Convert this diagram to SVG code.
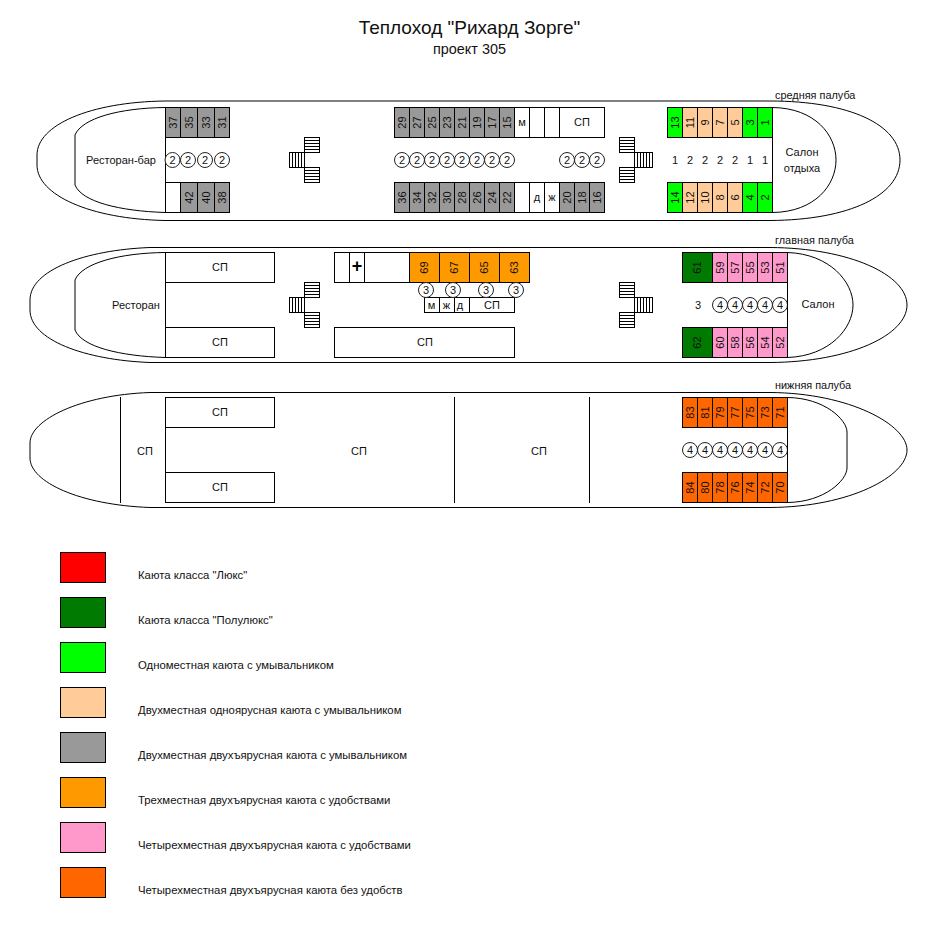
<svg xmlns="http://www.w3.org/2000/svg" width="938" height="928" viewBox="0 0 938 928">
<style>
text{font-family:"Liberation Sans",Arial,sans-serif;font-size:11px;fill:#111;text-anchor:middle}
.l{text-anchor:start;font-size:10.9px}
.e{text-anchor:start;font-size:11.35px}
rect,circle,.h,.s{stroke:#000;stroke-width:1}
.h,.s{fill:none}
rect{fill:#fff}
circle{fill:#fff;stroke:#222}
.g{fill:#999}.gg{fill:#0f0}.p{fill:#fc9}.o{fill:#f90}.k{fill:#f9c}.d{fill:#007a00}.r{fill:#f60}.x{fill:#f00}
</style>
<defs>
<g id="hb"><rect width="15" height="15"/><path class="s" d="M0 3H15M0 6H15M0 9H15M0 12H15"/><path class="s" d="M0 0H15"/></g>
<g id="stairL"><use href="#hb" x="15"/><use href="#hb" x="15" y="30"/><rect y="15" width="15" height="15"/><path class="s" d="M3 15V30M6 15V30M9 15V30M12 15V30"/></g>
<g id="stairR"><use href="#hb"/><use href="#hb" y="30"/><rect x="15" y="15" width="18" height="15"/><path class="s" d="M18 15V30M21 15V30M24 15V30M27 15V30M30 15V30"/></g>
</defs>
<g id="title"><text x="469.500" y="34" style="font-size:19px">Теплоход "Рихард Зорге"</text><text x="469.500" y="54" style="font-size:14.4px">проект 305</text></g>
<g id="connectors">
<path class="h" d="M165 101C90 102 37 125 37 155V165C37 195 90 219 165 220.500H770C850 220 900 195 900 160C900 125 850 101 770 101Z"/>
<path class="h" d="M165 107.500C120 108 82 118 75 135V185C82 202 120 211 165 212.500M772.500 107.500C815 108 836 135 836 160C836 185 815 212 772.500 212.500V107.500"/>
<path class="h" d="M150 247.500C85 250 30 270 30 300V310C30 340 85 360 150 362.500H770C850 362 907 335 907 305C907 275 850 248 770 247.500Z"/>
<path class="h" d="M165 252.500C120 253 82 263 75 280V330C82 347 120 356 165 357.500M787.500 252.500C830 254 853 282 853 305C853 328 830 356 787.500 357.500V252.500"/>
<path class="h" d="M150 392.500C80 395 30 420 30 443V458C30 482 80 505 150 507.500H770C850 507 907 476 907 450C907 425 850 393 770 392.500Z"/>
<path class="h" d="M787.500 397.500C825 398 847 420 847 432V468C847 480 825 502 787.500 502.500V397.500M120.500 397V503M454.500 397V503M589.500 397V503"/>
<path class="h" d="M165.500 107.500V212.500M165.500 252.500V357.500M165.500 397.500V502.500"/>
</g>
<g id="deck-labels"><text class="l" x="775" y="99">средняя палуба</text><text class="l" x="775" y="244">главная палуба</text><text class="l" x="775" y="389">нижняя палуба</text></g>
<g id="stairs"><use href="#stairL" x="289.500" y="137.500"/><use href="#stairL" x="289.500" y="282.500"/><use href="#stairR" x="619.500" y="137.500"/><use href="#stairR" x="619.500" y="282.500"/></g>
<g id="rooms">
<text x="121" y="164">Ресторан-бар</text>
<text x="136" y="309">Ресторан</text>
<text x="802" y="156">Салон</text><text x="802" y="172">отдыха</text>
<text x="818" y="308">Салон</text>
<g id="sp1"><rect x="559.500" y="107.500" width="45" height="30"/><text x="582" y="126">СП</text></g>
<rect x="514.500" y="107.500" width="15" height="30"/><text x="522" y="126">м</text>
<rect x="529.500" y="107.500" width="15" height="30"/><rect x="544.500" y="107.500" width="15" height="30"/>
<rect x="165.500" y="182.500" width="15" height="30"/>
<rect x="514.500" y="182.500" width="15" height="30"/>
<rect x="529.500" y="182.500" width="15" height="30"/><text x="537" y="201">д</text>
<rect x="544.500" y="182.500" width="15" height="30"/><text x="552" y="201">ж</text>
<g id="sp2"><rect x="165.500" y="252.500" width="109" height="30"/><text x="220" y="271">СП</text></g>
<g id="sp3"><rect x="165.500" y="327.500" width="109" height="30"/><text x="220" y="346">СП</text></g>
<rect x="334.500" y="252.500" width="15" height="30"/>
<rect x="349.500" y="252.500" width="15" height="30"/><text x="357" y="272" style="font-size:18px;font-weight:bold;fill:#000">+</text>
<rect x="364.500" y="252.500" width="45" height="30"/>
<rect x="424.500" y="297.500" width="15" height="15"/><text x="431.500" y="309">м</text>
<rect x="439.500" y="297.500" width="15" height="15"/><text x="446.500" y="309">ж</text>
<rect x="454.500" y="297.500" width="15" height="15"/><text x="460" y="309">д</text>
<rect x="469.500" y="297.500" width="45" height="15"/><text x="492" y="309">СП</text>
<g id="sp4"><rect x="334.500" y="327.500" width="180" height="30"/><text x="425" y="346">СП</text></g>
<g id="sp5"><rect x="165.500" y="397.500" width="109" height="30"/><text x="220" y="416">СП</text></g>
<g id="sp6"><rect x="165.500" y="472.500" width="109" height="30"/><text x="220" y="491">СП</text></g>
<text x="145" y="455">СП</text><text x="359" y="455">СП</text><text x="539" y="455">СП</text>
</g>
<g id="cabins-gray">
<g id="c37"><rect class="g" x="165.500" y="107.500" width="15" height="30"/><text transform="translate(173 122.500) rotate(-90)" y="4">37</text></g>
<g id="c35"><rect class="g" x="180.500" y="107.500" width="17" height="30"/><text transform="translate(189 122.500) rotate(-90)" y="4">35</text></g>
<g id="c33"><rect class="g" x="197.500" y="107.500" width="17" height="30"/><text transform="translate(206 122.500) rotate(-90)" y="4">33</text></g>
<g id="c31"><rect class="g" x="214.500" y="107.500" width="15" height="30"/><text transform="translate(222 122.500) rotate(-90)" y="4">31</text></g>
<g id="c42"><rect class="g" x="180.500" y="182.500" width="17" height="30"/><text transform="translate(189 197.500) rotate(-90)" y="4">42</text></g>
<g id="c40"><rect class="g" x="197.500" y="182.500" width="17" height="30"/><text transform="translate(206 197.500) rotate(-90)" y="4">40</text></g>
<g id="c38"><rect class="g" x="214.500" y="182.500" width="15" height="30"/><text transform="translate(222 197.500) rotate(-90)" y="4">38</text></g>
<g id="c29"><rect class="g" x="394.500" y="107.500" width="15" height="30"/><text transform="translate(402 122.500) rotate(-90)" y="4">29</text></g>
<g id="c27"><rect class="g" x="409.500" y="107.500" width="15" height="30"/><text transform="translate(417 122.500) rotate(-90)" y="4">27</text></g>
<g id="c25"><rect class="g" x="424.500" y="107.500" width="15" height="30"/><text transform="translate(432 122.500) rotate(-90)" y="4">25</text></g>
<g id="c23"><rect class="g" x="439.500" y="107.500" width="15" height="30"/><text transform="translate(447 122.500) rotate(-90)" y="4">23</text></g>
<g id="c21"><rect class="g" x="454.500" y="107.500" width="15" height="30"/><text transform="translate(462 122.500) rotate(-90)" y="4">21</text></g>
<g id="c19"><rect class="g" x="469.500" y="107.500" width="15" height="30"/><text transform="translate(477 122.500) rotate(-90)" y="4">19</text></g>
<g id="c17"><rect class="g" x="484.500" y="107.500" width="15" height="30"/><text transform="translate(492 122.500) rotate(-90)" y="4">17</text></g>
<g id="c15"><rect class="g" x="499.500" y="107.500" width="15" height="30"/><text transform="translate(507 122.500) rotate(-90)" y="4">15</text></g>
<g id="c36"><rect class="g" x="394.500" y="182.500" width="15" height="30"/><text transform="translate(402 197.500) rotate(-90)" y="4">36</text></g>
<g id="c34"><rect class="g" x="409.500" y="182.500" width="15" height="30"/><text transform="translate(417 197.500) rotate(-90)" y="4">34</text></g>
<g id="c32"><rect class="g" x="424.500" y="182.500" width="15" height="30"/><text transform="translate(432 197.500) rotate(-90)" y="4">32</text></g>
<g id="c30"><rect class="g" x="439.500" y="182.500" width="15" height="30"/><text transform="translate(447 197.500) rotate(-90)" y="4">30</text></g>
<g id="c28"><rect class="g" x="454.500" y="182.500" width="15" height="30"/><text transform="translate(462 197.500) rotate(-90)" y="4">28</text></g>
<g id="c26"><rect class="g" x="469.500" y="182.500" width="15" height="30"/><text transform="translate(477 197.500) rotate(-90)" y="4">26</text></g>
<g id="c24"><rect class="g" x="484.500" y="182.500" width="15" height="30"/><text transform="translate(492 197.500) rotate(-90)" y="4">24</text></g>
<g id="c22"><rect class="g" x="499.500" y="182.500" width="15" height="30"/><text transform="translate(507 197.500) rotate(-90)" y="4">22</text></g>
<g id="c20"><rect class="g" x="559.500" y="182.500" width="15" height="30"/><text transform="translate(567 197.500) rotate(-90)" y="4">20</text></g>
<g id="c18"><rect class="g" x="574.500" y="182.500" width="15" height="30"/><text transform="translate(582 197.500) rotate(-90)" y="4">18</text></g>
<g id="c16"><rect class="g" x="589.500" y="182.500" width="15" height="30"/><text transform="translate(597 197.500) rotate(-90)" y="4">16</text></g>
</g>
<g id="cabins-front-mid">
<g id="c13"><rect class="gg" x="667.500" y="107.500" width="15" height="30"/><text transform="translate(675 122.500) rotate(-90)" y="4">13</text></g>
<g id="c11"><rect class="p" x="682.500" y="107.500" width="15" height="30"/><text transform="translate(690 122.500) rotate(-90)" y="4">11</text></g>
<g id="c9"><rect class="p" x="697.500" y="107.500" width="15" height="30"/><text transform="translate(705 122.500) rotate(-90)" y="4">9</text></g>
<g id="c7"><rect class="p" x="712.500" y="107.500" width="15" height="30"/><text transform="translate(720 122.500) rotate(-90)" y="4">7</text></g>
<g id="c5"><rect class="p" x="727.500" y="107.500" width="15" height="30"/><text transform="translate(735 122.500) rotate(-90)" y="4">5</text></g>
<g id="c3"><rect class="gg" x="742.500" y="107.500" width="15" height="30"/><text transform="translate(750 122.500) rotate(-90)" y="4">3</text></g>
<g id="c1"><rect class="gg" x="757.500" y="107.500" width="15" height="30"/><text transform="translate(765 122.500) rotate(-90)" y="4">1</text></g>
<g id="c14"><rect class="gg" x="667.500" y="182.500" width="15" height="30"/><text transform="translate(675 197.500) rotate(-90)" y="4">14</text></g>
<g id="c12"><rect class="p" x="682.500" y="182.500" width="15" height="30"/><text transform="translate(690 197.500) rotate(-90)" y="4">12</text></g>
<g id="c10"><rect class="p" x="697.500" y="182.500" width="15" height="30"/><text transform="translate(705 197.500) rotate(-90)" y="4">10</text></g>
<g id="c8"><rect class="p" x="712.500" y="182.500" width="15" height="30"/><text transform="translate(720 197.500) rotate(-90)" y="4">8</text></g>
<g id="c6"><rect class="p" x="727.500" y="182.500" width="15" height="30"/><text transform="translate(735 197.500) rotate(-90)" y="4">6</text></g>
<g id="c4"><rect class="gg" x="742.500" y="182.500" width="15" height="30"/><text transform="translate(750 197.500) rotate(-90)" y="4">4</text></g>
<g id="c2"><rect class="gg" x="757.500" y="182.500" width="15" height="30"/><text transform="translate(765 197.500) rotate(-90)" y="4">2</text></g>
</g>
<g id="cabins-main">
<g id="c69"><rect class="o" x="409.500" y="252.500" width="30" height="30"/><text transform="translate(424 267.500) rotate(-90)" y="4">69</text></g>
<g id="c67"><rect class="o" x="439.500" y="252.500" width="30" height="30"/><text transform="translate(454 267.500) rotate(-90)" y="4">67</text></g>
<g id="c65"><rect class="o" x="469.500" y="252.500" width="30" height="30"/><text transform="translate(484 267.500) rotate(-90)" y="4">65</text></g>
<g id="c63"><rect class="o" x="499.500" y="252.500" width="30" height="30"/><text transform="translate(514 267.500) rotate(-90)" y="4">63</text></g>
<g id="c61"><rect class="d" x="682.500" y="252.500" width="30" height="30"/><text transform="translate(697 267.500) rotate(-90)" y="4">61</text></g>
<g id="c62"><rect class="d" x="682.500" y="327.500" width="30" height="30"/><text transform="translate(697 342.500) rotate(-90)" y="4">62</text></g>
<g id="c59"><rect class="k" x="712.500" y="252.500" width="15" height="30"/><text transform="translate(720 267.500) rotate(-90)" y="4">59</text></g>
<g id="c57"><rect class="k" x="727.500" y="252.500" width="15" height="30"/><text transform="translate(735 267.500) rotate(-90)" y="4">57</text></g>
<g id="c55"><rect class="k" x="742.500" y="252.500" width="15" height="30"/><text transform="translate(750 267.500) rotate(-90)" y="4">55</text></g>
<g id="c53"><rect class="k" x="757.500" y="252.500" width="15" height="30"/><text transform="translate(765 267.500) rotate(-90)" y="4">53</text></g>
<g id="c51"><rect class="k" x="772.500" y="252.500" width="15" height="30"/><text transform="translate(780 267.500) rotate(-90)" y="4">51</text></g>
<g id="c60"><rect class="k" x="712.500" y="327.500" width="15" height="30"/><text transform="translate(720 342.500) rotate(-90)" y="4">60</text></g>
<g id="c58"><rect class="k" x="727.500" y="327.500" width="15" height="30"/><text transform="translate(735 342.500) rotate(-90)" y="4">58</text></g>
<g id="c56"><rect class="k" x="742.500" y="327.500" width="15" height="30"/><text transform="translate(750 342.500) rotate(-90)" y="4">56</text></g>
<g id="c54"><rect class="k" x="757.500" y="327.500" width="15" height="30"/><text transform="translate(765 342.500) rotate(-90)" y="4">54</text></g>
<g id="c52"><rect class="k" x="772.500" y="327.500" width="15" height="30"/><text transform="translate(780 342.500) rotate(-90)" y="4">52</text></g>
</g>
<g id="cabins-lower">
<g id="c83"><rect class="r" x="682.500" y="397.500" width="15" height="30"/><text transform="translate(690 412.500) rotate(-90)" y="4">83</text></g>
<g id="c81"><rect class="r" x="697.500" y="397.500" width="15" height="30"/><text transform="translate(705 412.500) rotate(-90)" y="4">81</text></g>
<g id="c79"><rect class="r" x="712.500" y="397.500" width="15" height="30"/><text transform="translate(720 412.500) rotate(-90)" y="4">79</text></g>
<g id="c77"><rect class="r" x="727.500" y="397.500" width="15" height="30"/><text transform="translate(735 412.500) rotate(-90)" y="4">77</text></g>
<g id="c75"><rect class="r" x="742.500" y="397.500" width="15" height="30"/><text transform="translate(750 412.500) rotate(-90)" y="4">75</text></g>
<g id="c73"><rect class="r" x="757.500" y="397.500" width="15" height="30"/><text transform="translate(765 412.500) rotate(-90)" y="4">73</text></g>
<g id="c71"><rect class="r" x="772.500" y="397.500" width="15" height="30"/><text transform="translate(780 412.500) rotate(-90)" y="4">71</text></g>
<g id="c84"><rect class="r" x="682.500" y="472.500" width="15" height="30"/><text transform="translate(690 487.500) rotate(-90)" y="4">84</text></g>
<g id="c80"><rect class="r" x="697.500" y="472.500" width="15" height="30"/><text transform="translate(705 487.500) rotate(-90)" y="4">80</text></g>
<g id="c78"><rect class="r" x="712.500" y="472.500" width="15" height="30"/><text transform="translate(720 487.500) rotate(-90)" y="4">78</text></g>
<g id="c76"><rect class="r" x="727.500" y="472.500" width="15" height="30"/><text transform="translate(735 487.500) rotate(-90)" y="4">76</text></g>
<g id="c74"><rect class="r" x="742.500" y="472.500" width="15" height="30"/><text transform="translate(750 487.500) rotate(-90)" y="4">74</text></g>
<g id="c72"><rect class="r" x="757.500" y="472.500" width="15" height="30"/><text transform="translate(765 487.500) rotate(-90)" y="4">72</text></g>
<g id="c70"><rect class="r" x="772.500" y="472.500" width="15" height="30"/><text transform="translate(780 487.500) rotate(-90)" y="4">70</text></g>
</g>
<g id="berths">
<circle cx="172.500" cy="160" r="7.500"/><text x="172.500" y="164">2</text>
<circle cx="188" cy="160" r="7.500"/><text x="188" y="164">2</text>
<circle cx="205" cy="160" r="7.500"/><text x="205" y="164">2</text>
<circle cx="222" cy="160" r="7.500"/><text x="222" y="164">2</text>
<circle cx="402" cy="160" r="7.500"/><text x="402" y="164">2</text>
<circle cx="417" cy="160" r="7.500"/><text x="417" y="164">2</text>
<circle cx="432" cy="160" r="7.500"/><text x="432" y="164">2</text>
<circle cx="447" cy="160" r="7.500"/><text x="447" y="164">2</text>
<circle cx="462" cy="160" r="7.500"/><text x="462" y="164">2</text>
<circle cx="477" cy="160" r="7.500"/><text x="477" y="164">2</text>
<circle cx="492" cy="160" r="7.500"/><text x="492" y="164">2</text>
<circle cx="507" cy="160" r="7.500"/><text x="507" y="164">2</text>
<circle cx="567" cy="160" r="7.500"/><text x="567" y="164">2</text>
<circle cx="582" cy="160" r="7.500"/><text x="582" y="164">2</text>
<circle cx="597" cy="160" r="7.500"/><text x="597" y="164">2</text>
<text x="675" y="164">1</text><text x="690" y="164">2</text><text x="705" y="164">2</text><text x="720" y="164">2</text><text x="735" y="164">2</text><text x="750" y="164">1</text><text x="765" y="164">1</text>
<circle cx="426" cy="290" r="7.500"/><text x="426" y="294">3</text>
<circle cx="453" cy="290" r="7.500"/><text x="453" y="294">3</text>
<circle cx="486" cy="290" r="7.500"/><text x="486" y="294">3</text>
<circle cx="516" cy="290" r="7.500"/><text x="516" y="294">3</text>
<text x="698" y="309">3</text>
<circle cx="720" cy="305" r="7.500"/><text x="720" y="309">4</text>
<circle cx="735" cy="305" r="7.500"/><text x="735" y="309">4</text>
<circle cx="750" cy="305" r="7.500"/><text x="750" y="309">4</text>
<circle cx="765" cy="305" r="7.500"/><text x="765" y="309">4</text>
<circle cx="780" cy="305" r="7.500"/><text x="780" y="309">4</text>
<circle cx="690" cy="450" r="7.500"/><text x="690" y="454">4</text>
<circle cx="705" cy="450" r="7.500"/><text x="705" y="454">4</text>
<circle cx="720" cy="450" r="7.500"/><text x="720" y="454">4</text>
<circle cx="735" cy="450" r="7.500"/><text x="735" y="454">4</text>
<circle cx="750" cy="450" r="7.500"/><text x="750" y="454">4</text>
<circle cx="765" cy="450" r="7.500"/><text x="765" y="454">4</text>
<circle cx="780" cy="450" r="7.500"/><text x="780" y="454">4</text>
<path class="h" d="M787.500 282V328M787.500 427V473"/>
</g>
<g id="legend">
<g id="lg1"><rect class="x" x="60.500" y="552.500" width="45" height="30"/><text class="e" x="138" y="579">Каюта класса "Люкс"</text></g>
<g id="lg2"><rect class="d" x="60.500" y="597.500" width="45" height="30"/><text class="e" x="138" y="624">Каюта класса "Полулюкс"</text></g>
<g id="lg3"><rect class="gg" x="60.500" y="642.500" width="45" height="30"/><text class="e" x="138" y="669">Одноместная каюта с умывальником</text></g>
<g id="lg4"><rect class="p" x="60.500" y="687.500" width="45" height="30"/><text class="e" x="138" y="714">Двухместная одноярусная каюта с умывальником</text></g>
<g id="lg5"><rect class="g" x="60.500" y="732.500" width="45" height="30"/><text class="e" x="138" y="759">Двухместная двухъярусная каюта с умывальником</text></g>
<g id="lg6"><rect class="o" x="60.500" y="777.500" width="45" height="30"/><text class="e" x="138" y="804">Трехместная двухъярусная каюта с удобствами</text></g>
<g id="lg7"><rect class="k" x="60.500" y="822.500" width="45" height="30"/><text class="e" x="138" y="849">Четырехместная двухъярусная каюта с удобствами</text></g>
<g id="lg8"><rect class="r" x="60.500" y="867.500" width="45" height="30"/><text class="e" x="138" y="894">Четырехместная двухъярусная каюта без удобств</text></g>
</g>
</svg>
